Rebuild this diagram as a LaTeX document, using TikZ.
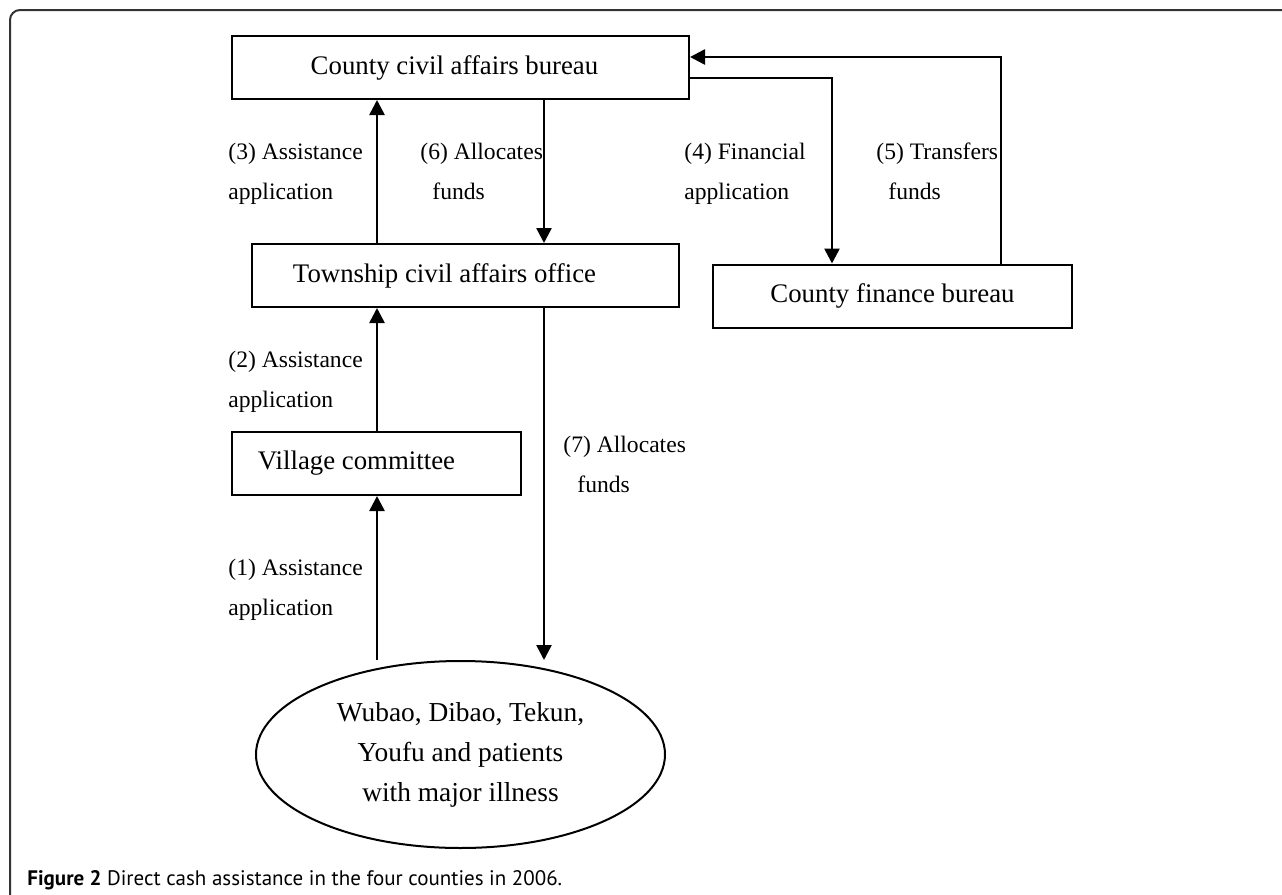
\documentclass[tikz,border=0pt]{standalone}
\usepackage{fontspec}
\setmainfont{Liberation Serif}
\newfontfamily\capfont{PT Sans}
\usetikzlibrary{arrows.meta, positioning, shapes.geometric}

\tikzset{
  box/.style={draw, line width=1pt, minimum height=31.5pt, inner sep=0pt,
    font=\fontsize{13.4}{20}\selectfont},
  lbl/.style={align=left, inner sep=0pt, anchor=base west,
    font=\fontsize{11.8}{20}\selectfont},
  arr/.style={line width=1.3pt, -{Triangle[length=7.5pt,width=7.5pt]}},
  conn/.style={line width=1.3pt}
}

\begin{document}
\begin{tikzpicture}[x=0.5pt, y=-0.5pt]
      \useasboundingbox (0,0) rectangle (1282,895);
      % frame and caption
      \draw[line width=1pt, draw=black!80, rounded corners=5pt] (10,895) -- (10,10) -- (1282,10);
      \node[anchor=base west, inner sep=0pt, font=\capfont\fontsize{10.5}{12}\selectfont]
        (caption) at (27,885) {\textbf{Figure 2} Direct cash assistance in the four counties in 2006.};
      % boxes
      \node[box, minimum width=228.5pt] (ccab) at (460.5,67.5) {County civil affairs bureau\hspace*{6pt}};
      \node[box, minimum width=213.5pt] (tcao) at (465.5,275.5) {Township civil affairs office\hspace*{21pt}};
      \node[box, minimum width=179.5pt] (cfb) at (892.5,296) {County finance bureau};
      \node[box, minimum width=144.5pt] (vc) at (376.5,463.5) {Village committee\hspace*{20pt}};
      \node[draw, ellipse, line width=1pt, minimum width=204.5pt, minimum height=93.5pt, inner sep=0pt,
        align=center, font=\fontsize{13.7}{20}\selectfont] (people) at (460.5,754.5)
        {Wubao, Dibao, Tekun,\\Youfu and patients\\with major illness};
      % connectors
      \draw[arr] (377,0 |- people.north) -- (377,0 |- vc.south);
      \draw[arr] (377,0 |- vc.north) -- (377,0 |- tcao.south);
      \draw[arr] (377,0 |- tcao.north) -- (377,0 |- ccab.south);
      \draw[arr] (544,0 |- ccab.south) -- (544,0 |- tcao.north);
      \draw[arr] (ccab.east |- 0,78) -| (832,0 |- cfb.north);
      \draw[arr] (1001,0 |- cfb.north) |- (ccab.east |- 0,57);
      \draw[arr] (544,0 |- tcao.south) -- (544,0 |- people.north);
      % labels (placed at the baseline of their last line)
      \node[lbl] (l1) at (228,615) {(1) Assistance\\application};
      \node[lbl] (l2) at (228,407) {(2) Assistance\\application};
      \node[lbl] (l3) at (228,199) {(3) Assistance\\application};
      \node[lbl] (l4) at (684,199) {(4) Financial\\application};
      \node[lbl] (l5) at (876,199) {(5) Transfers\\\hspace*{6pt}funds};
      \node[lbl] (l6) at (420,199) {(6) Allocates\\\hspace*{6pt}funds};
      \node[lbl] (l7) at (563,492) {(7) Allocates\\\hspace*{7pt}funds};
\end{tikzpicture}
\end{document}
